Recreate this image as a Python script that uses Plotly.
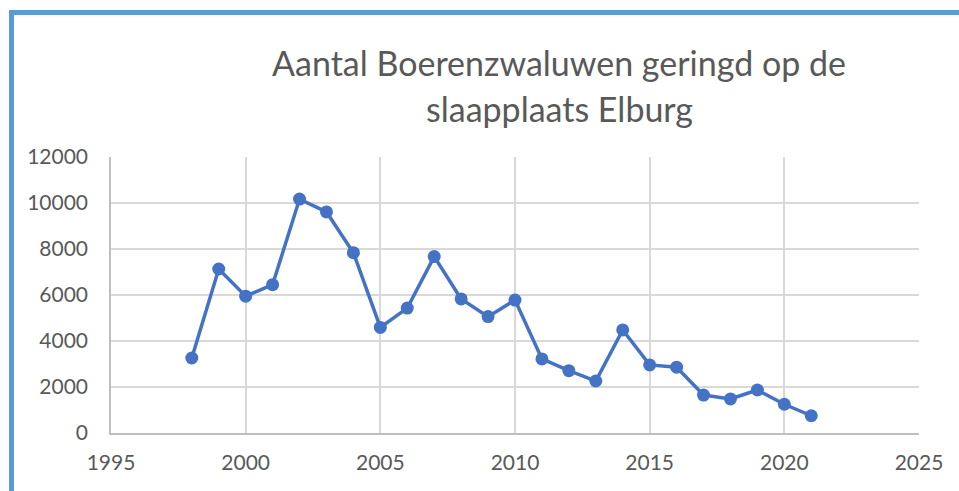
import plotly.graph_objects as go

years = [1998, 1999, 2000, 2001, 2002, 2003, 2004, 2005, 2006, 2007, 2008, 2009,
         2010, 2011, 2012, 2013, 2014, 2015, 2016, 2017, 2018, 2019, 2020, 2021]
counts = [3260, 7130, 5950, 6450, 10170, 9610, 7840, 4590, 5430, 7670, 5830, 5060,
          5780, 3220, 2710, 2260, 4480, 2960, 2860, 1650, 1480, 1870, 1250, 750]
title_lines = ["Aantal Boerenzwaluwen geringd op de", "slaapplaats Elburg"]

W, H = 959, 491
L, R, T, B = 111, 40, 157, 58
pw, ph = W - L - R, H - T - B

def px(x):
    return (x - L) / pw

def py(y):
    return (H - B - y) / ph

fig = go.Figure()
fig.add_trace(go.Scatter(
    x=years, y=counts, mode="lines+markers",
    line=dict(color="#4472C4", width=3.5),
    marker=dict(color="#4472C4", size=13),
    hoverinfo="skip", showlegend=False,
))

grid = "#D9D9D9"
tickfont = dict(family="Lato, Open Sans, sans-serif", size=21, color="#595959")
fig.update_xaxes(range=[1995, 2025], dtick=5, tick0=1995, showgrid=True, gridcolor=grid,
                 gridwidth=1.5, showline=True, linecolor="#BFBFBF", linewidth=1.5,
                 mirror=False, zeroline=False, ticks="", tickfont=tickfont, ticklabelstandoff=10)
fig.update_yaxes(range=[0, 12000], dtick=2000, tickformat="d", showgrid=True, gridcolor=grid,
                 gridwidth=1.5, showline=True, linecolor="#BFBFBF", linewidth=1.5,
                 zeroline=False, ticks="", tickfont=tickfont, ticklabelstandoff=17)

titlefont = dict(family="Lato, Open Sans, sans-serif", size=34, color="#595959")
fig.add_annotation(x=px(559), y=py(62), xref="paper", yref="paper", text=title_lines[0],
                   showarrow=False, font=titlefont, xanchor="center", yanchor="middle")
fig.add_annotation(x=px(559), y=py(108), xref="paper", yref="paper", text=title_lines[1],
                   showarrow=False, font=titlefont, xanchor="center", yanchor="middle")

border = "#5B9BD5"
fig.add_shape(type="line", xref="paper", yref="paper", x0=px(11.5), x1=px(W + 5),
              y0=py(12.5), y1=py(12.5), line=dict(color=border, width=5))
fig.add_shape(type="line", xref="paper", yref="paper", x0=px(11.5), x1=px(11.5),
              y0=py(10), y1=py(H + 5), line=dict(color=border, width=5))

fig.update_layout(width=W, height=H, margin=dict(l=L, r=R, t=T, b=B),
                  paper_bgcolor="white", plot_bgcolor="white")
fig.write_html("out.html", config={"displayModeBar": False},
               post_script="document.body.style.margin='0';")
